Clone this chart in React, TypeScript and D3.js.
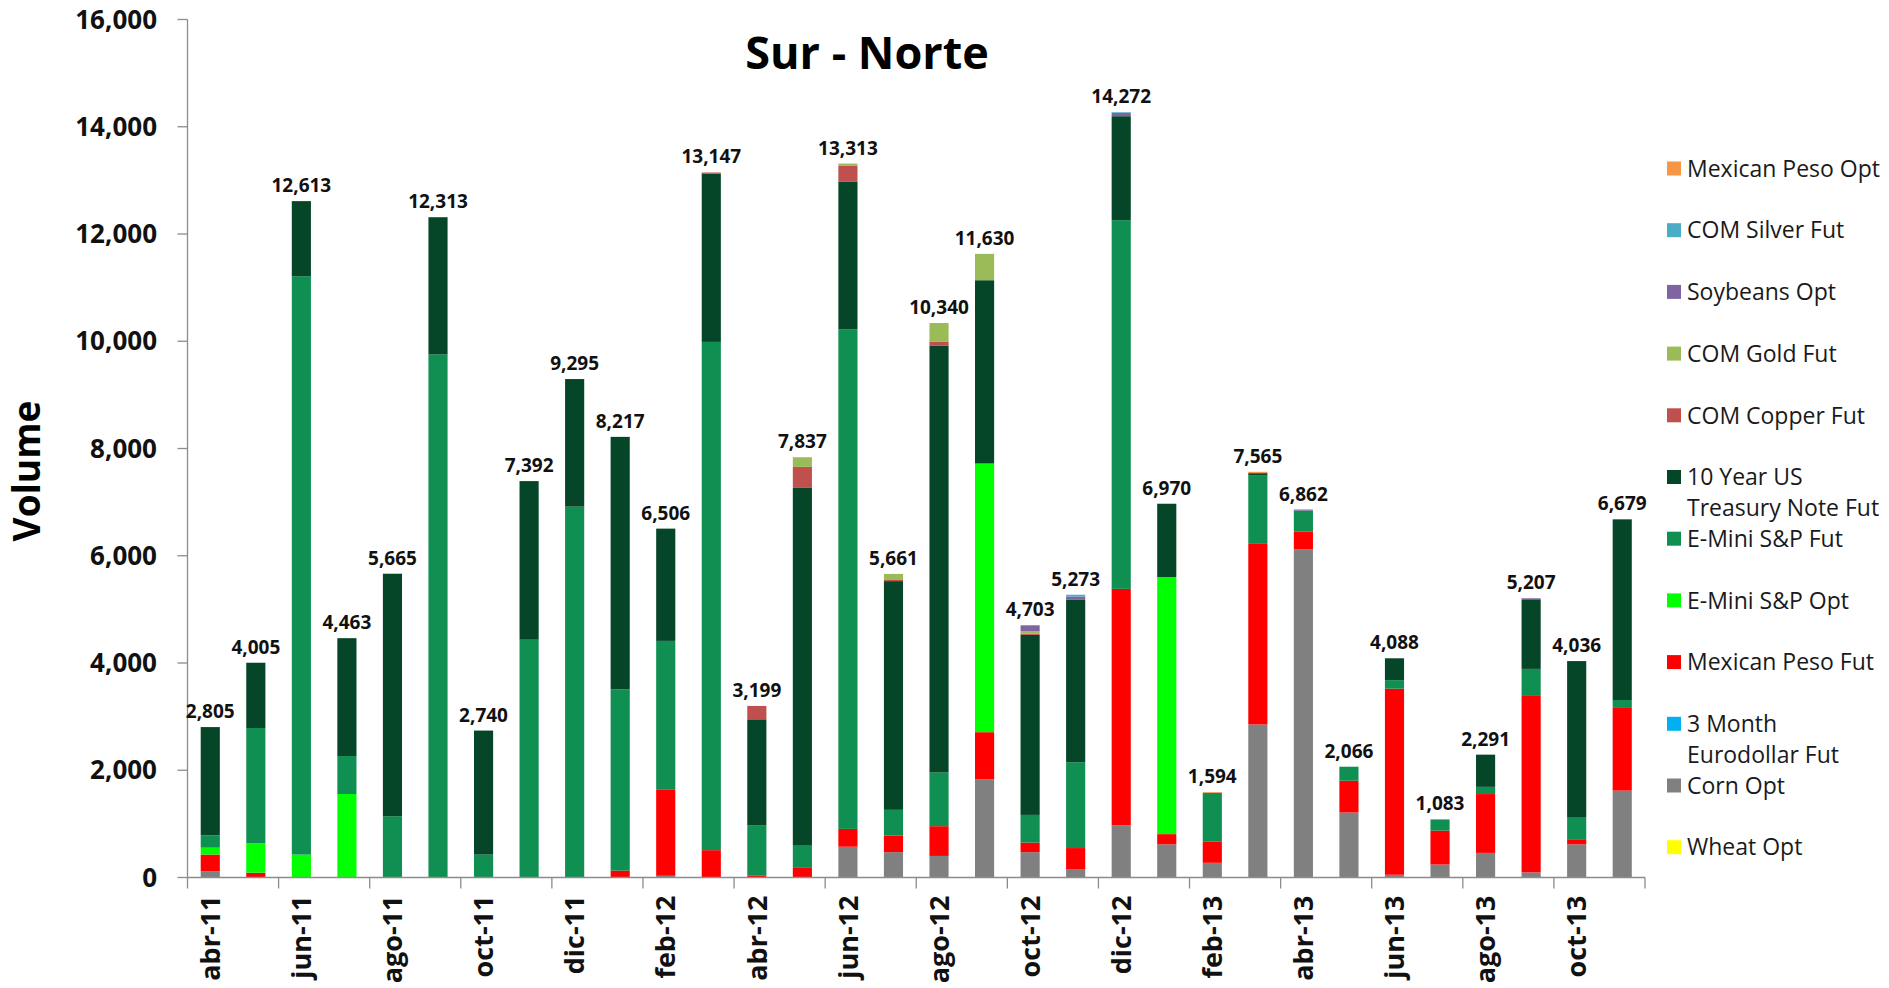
import React, { useEffect, useRef } from "react";
import * as d3 from "d3";

const months = [
  "abr-11", "may-11", "jun-11", "jul-11", "ago-11", "sep-11", "oct-11", "nov-11",
  "dic-11", "ene-12", "feb-12", "mar-12", "abr-12", "may-12", "jun-12", "jul-12",
  "ago-12", "sep-12", "oct-12", "nov-12", "dic-12", "ene-13", "feb-13", "mar-13",
  "abr-13", "may-13", "jun-13", "jul-13", "ago-13", "sep-13", "oct-13", "nov-13",
];

// series, bottom of the stack first
const wheatOpt = [0,0,0,0,0,0,0,0,0,0,0,0,0,0,0,0,0,0,0,0,0,0,0,0,0,0,0,0,0,0,0,0];
const cornOpt = [115,0,0,0,0,0,0,0,0,0,32,0,0,0,574,472,402,1830,472,147,976,618,274,2854,6116,1212,51,242,459,96,618,1620];
const eurodollarFut = [0,0,0,0,0,0,0,0,0,0,0,0,0,0,0,0,0,0,0,0,0,0,0,0,0,0,0,0,0,0,0,0];
const mexPesoFut = [313,89,0,0,0,0,0,0,0,128,1613,510,32,191,332,312,555,880,179,402,4406,191,400,3379,338,593,3470,631,1097,3290,83,1556];
const eminiOpt = [128,549,427,1557,0,0,0,0,0,0,0,0,0,0,0,0,0,5010,0,0,0,4795,0,0,0,0,0,0,0,0,0,0];
const eminiFut = [230,2150,10786,708,1142,9753,427,4434,6916,3381,2767,9478,944,402,9319,478,1001,0,516,1600,6876,0,905,1262,389,261,159,210,134,504,414,134];
const tenYear = [2019,1217,1400,2198,4523,2560,2313,2958,2379,4708,2094,3134,1974,6672,2747,4265,7956,3418,3358,3028,1939,1366,0,45,0,0,408,0,601,1298,2921,3369];
const copperFut = [0,0,0,0,0,0,0,0,0,0,0,25,249,392,298,32,74,0,25,0,0,0,0,0,0,0,0,0,0,0,0,0];
const goldFut = [0,0,0,0,0,0,0,0,0,0,0,0,0,180,43,102,352,492,45,0,0,0,0,0,0,0,0,0,0,0,0,0];
const soybeansOpt = [0,0,0,0,0,0,0,0,0,0,0,0,0,0,0,0,0,0,108,64,62,0,0,0,19,0,0,0,0,19,0,0];
const silverFut = [0,0,0,0,0,0,0,0,0,0,0,0,0,0,0,0,0,0,0,32,13,0,0,0,0,0,0,0,0,0,0,0];
const mexPesoOpt = [0,0,0,0,0,0,0,0,0,0,0,0,0,0,0,0,0,0,0,0,0,0,15,25,0,0,0,0,0,0,0,0];

const yTicks = [0, 2000, 4000, 6000, 8000, 10000, 12000, 14000, 16000];

const series = [
  { key: "Wheat Opt", label: ["Wheat Opt"], values: wheatOpt, color: "#FFFF00" },
  { key: "Corn Opt", label: ["Corn Opt"], values: cornOpt, color: "#808080" },
  { key: "3 Month Eurodollar Fut", label: ["3 Month", "Eurodollar Fut"], values: eurodollarFut, color: "#00B0F0" },
  { key: "Mexican Peso Fut", label: ["Mexican Peso Fut"], values: mexPesoFut, color: "#FF0000" },
  { key: "E-Mini S&P Opt", label: ["E-Mini S&P Opt"], values: eminiOpt, color: "#00FF00" },
  { key: "E-Mini S&P Fut", label: ["E-Mini S&P Fut"], values: eminiFut, color: "#0F8F51" },
  { key: "10 Year US Treasury Note Fut", label: ["10 Year US", "Treasury Note Fut"], values: tenYear, color: "#064628" },
  { key: "COM Copper Fut", label: ["COM Copper Fut"], values: copperFut, color: "#C0504D" },
  { key: "COM Gold Fut", label: ["COM Gold Fut"], values: goldFut, color: "#9BBB59" },
  { key: "Soybeans Opt", label: ["Soybeans Opt"], values: soybeansOpt, color: "#8064A2" },
  { key: "COM Silver Fut", label: ["COM Silver Fut"], values: silverFut, color: "#4BACC6" },
  { key: "Mexican Peso Opt", label: ["Mexican Peso Opt"], values: mexPesoOpt, color: "#F79646" },
];

const W = 1889;
const H = 988;
const FONT = "'Open Sans', 'DejaVu Sans', sans-serif";

const App: React.FC = () => {
  const svgRef = useRef<SVGSVGElement | null>(null);

  useEffect(() => {
    document.body.style.margin = "0";
    const svg = d3.select(svgRef.current);
    svg.selectAll("*").remove();

    const left = 187.5, right = 1645, top = 19.5, bottom = 877.5;
    const keys = series.map(s => s.key);
    const rows = months.map((m, i) => {
      const r: any = { month: m };
      series.forEach(s => (r[s.key] = s.values[i]));
      return r;
    });

    const x = d3.scaleBand().domain(months).range([left, right]).paddingInner(0.58).paddingOuter(0.29);
    const y = d3.scaleLinear().domain([0, 16000]).range([bottom, top]);
    const step = x.step();
    const stacked = d3.stack().keys(keys)(rows);
    const color = d3.scaleOrdinal<string>().domain(keys).range(series.map(s => s.color));

    // bars
    svg.append("g")
      .selectAll("g")
      .data(stacked)
      .join("g")
      .attr("fill", d => color(d.key))
      .selectAll("rect")
      .data(d => d)
      .join("rect")
      .attr("x", d => x(d.data.month as string) as number)
      .attr("y", d => y(d[1]))
      .attr("width", x.bandwidth())
      .attr("height", d => Math.max(0, y(d[0]) - y(d[1])));

    // y axis
    const ya = svg.append("g");
    ya.append("line").attr("x1", left).attr("x2", left).attr("y1", top).attr("y2", bottom)
      .attr("stroke", "#8c8c8c").attr("stroke-width", 1.3);
    yTicks.forEach(t => {
      ya.append("line").attr("x1", left - 10).attr("x2", left).attr("y1", y(t)).attr("y2", y(t))
        .attr("stroke", "#8c8c8c").attr("stroke-width", 1.3);
      ya.append("text").attr("x", 157).attr("y", y(t)).attr("dy", "0.35em")
        .attr("text-anchor", "end").attr("font-family", FONT).attr("font-weight", 700)
        .attr("font-size", 26).attr("fill", "#111").text(d3.format(",")(t));
    });

    // x axis
    const xa = svg.append("g");
    xa.append("line").attr("x1", left).attr("x2", right).attr("y1", bottom).attr("y2", bottom)
      .attr("stroke", "#8c8c8c").attr("stroke-width", 1.3);
    for (let k = 0; k <= months.length / 2; k++) {
      const tx = left + k * 2 * step;
      xa.append("line").attr("x1", tx).attr("x2", tx).attr("y1", bottom).attr("y2", bottom + 11)
        .attr("stroke", "#8c8c8c").attr("stroke-width", 1.3);
    }
    months.forEach((m, i) => {
      if (i % 2 !== 0) return;
      const cx = (x(m) as number) + x.bandwidth() / 2;
      xa.append("text")
        .attr("transform", `translate(${cx},${bottom + 18}) rotate(-90)`)
        .attr("dy", "0.36em").attr("text-anchor", "end")
        .attr("font-family", FONT).attr("font-weight", 700).attr("font-size", 27)
        .attr("fill", "#111").text(m);
    });

    // totals
    months.forEach((m, i) => {
      const total = d3.sum(series, s => s.values[i]);
      svg.append("text")
        .attr("x", (x(m) as number) + x.bandwidth() / 2)
        .attr("y", y(total) - 9)
        .attr("text-anchor", "middle").attr("font-family", FONT).attr("font-weight", 700)
        .attr("font-size", 19).attr("fill", "#111").text(d3.format(",")(total));
    });

    // title and axis title
    svg.append("text").attr("x", 867).attr("y", 69).attr("text-anchor", "middle")
      .attr("font-family", FONT).attr("font-weight", 700).attr("font-size", 45).attr("fill", "#000")
      .text("Sur - Norte");
    svg.append("text").attr("transform", "translate(27,471) rotate(-90)").attr("dy", "0.36em")
      .attr("text-anchor", "middle").attr("font-family", FONT).attr("font-weight", 700)
      .attr("font-size", 37).attr("fill", "#000").text("Volume");

    // legend, top entry is the top of the stack
    const legend = svg.append("g");
    [...series].reverse().forEach((s, i) => {
      const cy = 168.5 + i * 61.7;
      legend.append("rect").attr("x", 1667).attr("y", cy - 7).attr("width", 14).attr("height", 14)
        .attr("fill", s.color);
      s.label.forEach((line, j) => {
        legend.append("text").attr("x", 1687).attr("y", cy + j * 31).attr("dy", "0.36em")
          .attr("font-family", FONT).attr("font-size", 23).attr("fill", "#1a1a1a").text(line);
      });
    });
  }, []);

  return <svg ref={svgRef} width={W} height={H} style={{ display: "block" }}></svg>;
};

export default App;
